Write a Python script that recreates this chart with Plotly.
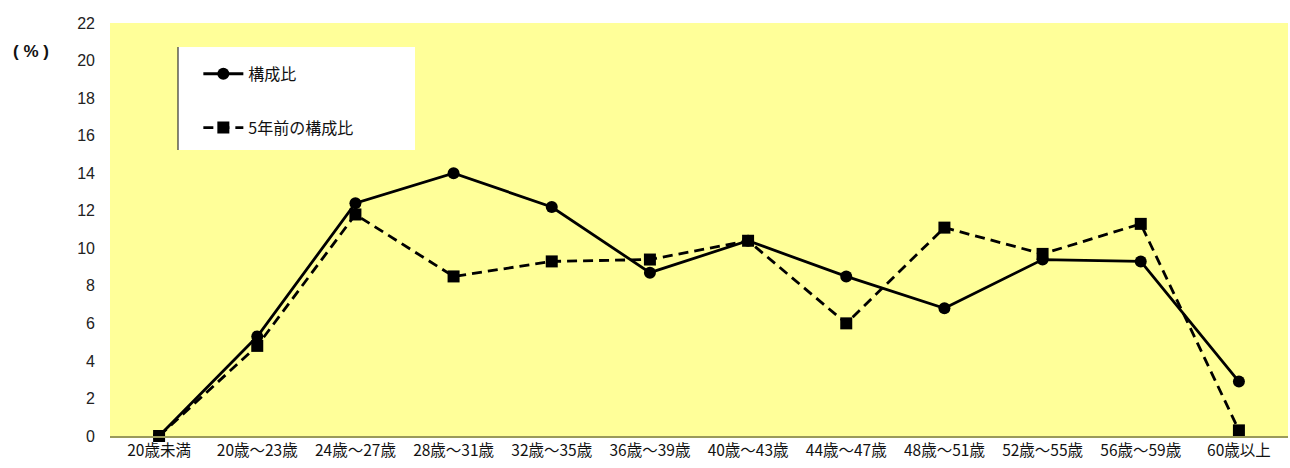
import plotly.graph_objects as go

# Age brackets (x-axis categories)
categories = ["20歳未満", "20歳～23歳", "24歳～27歳", "28歳～31歳", "32歳～35歳", "36歳～39歳",
              "40歳～43歳", "44歳～47歳", "48歳～51歳", "52歳～55歳", "56歳～59歳", "60歳以上"]

# Composition ratio (%) now and five years earlier
current_share = [0.0, 5.3, 12.4, 14.0, 12.2, 8.7, 10.4, 8.5, 6.8, 9.4, 9.3, 2.9]
previous_share = [0.0, 4.8, 11.8, 8.5, 9.3, 9.4, 10.4, 6.0, 11.1, 9.7, 11.3, 0.3]

y_ticks = list(range(0, 23, 2))

FONT = "Noto Sans CJK JP"

fig = go.Figure()

fig.add_trace(go.Scatter(
    x=categories, y=current_share, name="構成比",
    mode="lines+markers", legendgroup="a", legendrank=1, cliponaxis=False,
    line=dict(color="black", width=2.8),
    marker=dict(symbol="circle", size=12, color="black"),
))
fig.add_trace(go.Scatter(
    x=categories, y=previous_share, name="5年前の構成比",
    mode="lines+markers", legendgroup="b", legendrank=2, cliponaxis=False,
    line=dict(color="black", width=2.8, dash="10px,6px"),
    marker=dict(symbol="square", size=12, color="black"),
))

fig.update_layout(
    width=1290, height=468,
    margin=dict(l=110, r=2, t=23, b=32),
    paper_bgcolor="white",
    plot_bgcolor="#FFFF99",
    font=dict(family=FONT, size=14, color="#111111"),
    showlegend=True,
    legend=dict(
        x=0.075, y=0.918, xanchor="left", yanchor="top",
        bgcolor="rgba(0,0,0,0)", borderwidth=0,
        traceorder="grouped", tracegroupgap=30,
        itemwidth=40,
        font=dict(family=FONT, size=16, color="#111111"),
    ),
    xaxis=dict(
        type="category", showgrid=False, zeroline=False,
        showline=True, linecolor="#9a9a5a", linewidth=1.5,
        ticks="", tickfont=dict(family=FONT, size=15.5),
        range=[-0.5, len(categories) - 0.5],
    ),
    yaxis=dict(
        range=[0, 22], tickvals=y_ticks, showgrid=False, zeroline=False,
        showline=False, ticks="", ticklabelstandoff=14,
        tickfont=dict(family="Liberation Sans", size=16, color="#222222"),
    ),
    shapes=[
        dict(type="rect", xref="paper", yref="paper",
             x0=(178 - 110) / 1178, x1=(415 - 110) / 1178,
             y0=(436 - 150) / 413, y1=(436 - 47) / 413,
             fillcolor="white", line=dict(width=0), layer="below"),
        dict(type="line", xref="paper", yref="paper",
             x0=(178 - 110) / 1178, x1=(178 - 110) / 1178,
             y0=(436 - 150) / 413, y1=(436 - 47) / 413,
             line=dict(color="#333333", width=1.2)),
    ],
    annotations=[
        dict(text="<b>( % )</b>", xref="paper", yref="paper",
             x=(31 - 110) / 1178, y=(436 - 52) / 413, xanchor="center", yanchor="middle",
             showarrow=False, font=dict(family="Liberation Sans", size=17, color="#111111")),
    ],
)

fig.write_html("out.html")
